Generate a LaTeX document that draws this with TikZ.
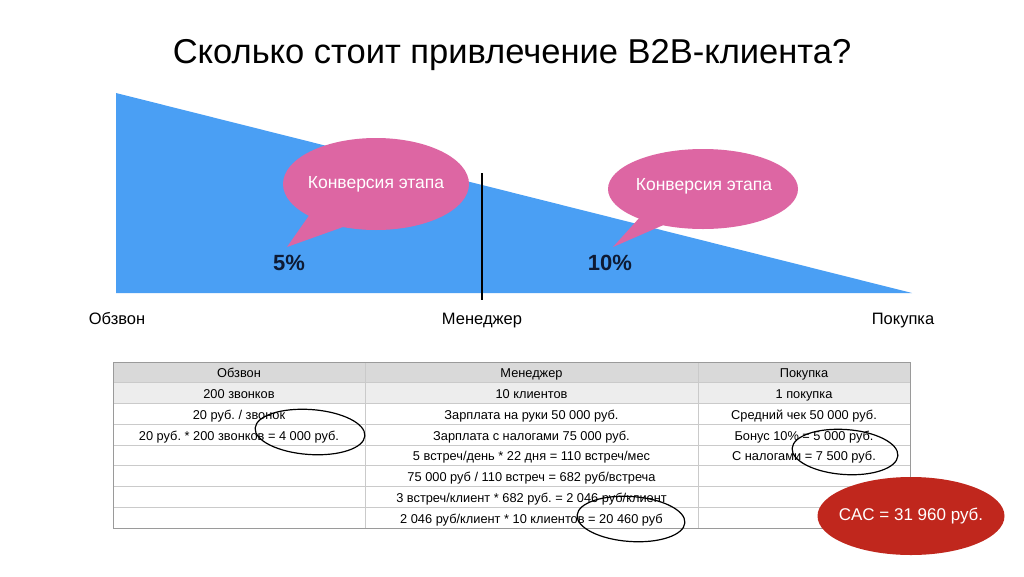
\documentclass[tikz,border=0pt]{standalone}
\usepackage{fontspec}
\setmainfont{Liberation Sans}
\usetikzlibrary{shapes.geometric, matrix, backgrounds}
\frenchspacing

\definecolor{funnelblue}{HTML}{4A9FF4}
\definecolor{bubblepink}{HTML}{DD66A3}
\definecolor{cacred}{HTML}{C0271D}
\definecolor{headgray}{HTML}{D9D9D9}
\definecolor{subgray}{HTML}{EDEDED}
\definecolor{gridgray}{HTML}{CACACA}
\definecolor{bordergray}{HTML}{9A9A9A}
\definecolor{pctnavy}{HTML}{0E1A33}

\begin{document}
\begin{tikzpicture}[x=1pt, y=-1pt,
    bubble node/.style={ellipse, fill=bubblepink, inner sep=0pt},
    bubble text/.style={text=white, font=\fontsize{17.5}{19}\selectfont},
    pct node/.style={text=pctnavy, font=\fontsize{22}{24}\selectfont\bfseries},
    stage node/.style={anchor=base, font=\fontsize{16.5}{18}\selectfont},
    cell node/.style={font=\fontsize{12.8}{14}\selectfont, inner xsep=0pt, inner ysep=0pt, outer sep=0pt,
      text height=11.4pt, text depth=0.6pt, minimum height=20.75pt},
    mark node/.style={ellipse, draw=black, line width=1.2pt, inner sep=0pt}]
\begin{scope}[on background layer]
  \fill[white] (0,0) rectangle (1024,576);
\end{scope}
\useasboundingbox (0,0) rectangle (1024,576);

\node[font=\fontsize{34.5}{38}\selectfont] (title) at (512,55) {Сколько стоит привлечение B2B-клиента?};

% funnel
\coordinate (ftop) at (116,93);
\coordinate (fleft) at (116,293);
\coordinate (fright) at (912,293);
\fill[funnelblue] (ftop) -- (fright) -- (fleft) -- cycle;
\coordinate (split top) at (482,173);
\coordinate (split bottom) at (482,300);
\draw[line width=1.2pt] (split top) -- (split bottom);

% bubbles
\coordinate (tipA) at (287,247);
\fill[bubblepink] (315,207) -- (tipA) -- (371,217) -- cycle;
\node[bubble node, minimum width=186pt, minimum height=92pt] (bubA) at (376,184) {};
\node[bubble text] at (bubA) {Конверсия этапа};
\coordinate (tipB) at (613,247);
\fill[bubblepink] (650,206) -- (tipB) -- (691,213) -- cycle;
\node[bubble node, minimum width=190pt, minimum height=80pt] (bubB) at (703,189) {};
\node[bubble text] at (704,186) {Конверсия этапа};

\node[pct node] (pctA) at (289,263) {5\%};
\node[pct node] (pctB) at (610,263) {10\%};

\node[stage node] (calls) at (117,324) {Обзвон};
\node[stage node] (manager) at (482,324) {Менеджер};
\node[stage node] (purchase) at (903,324) {Покупка};

% table
\matrix (tab) [matrix of nodes, nodes in empty cells, anchor=north west, inner sep=0pt, outer sep=0pt,
    row sep=0pt, column sep=0pt, nodes={cell node},
    column 1/.style={nodes={minimum width=252pt}},
    column 2/.style={nodes={minimum width=333pt}},
    column 3/.style={nodes={minimum width=212pt}}] at (113,362) {
  Обзвон & Менеджер & Покупка \\
  200 звонков & 10 клиентов & 1 покупка \\
  20 руб. / звонок & Зарплата на руки 50 000 руб. & Средний чек 50 000 руб. \\
  20 руб. * 200 звонков = 4 000 руб. & Зарплата с налогами 75 000 руб. & Бонус 10\% = 5 000 руб. \\
  & 5 встреч/день * 22 дня = 110 встреч/мес & С налогами = 7 500 руб. \\
  & 75 000 руб / 110 встреч = 682 руб/встреча & \\
  & 3 встреч/клиент * 682 руб. = 2 046 руб/клиент & \\
  & 2 046 руб/клиент * 10 клиентов = 20 460 руб & \\
};
\begin{scope}[on background layer]
  \fill[headgray] (tab-1-1.north west) rectangle (tab-1-3.south east);
  \fill[subgray] (tab-2-1.north west) rectangle (tab-2-3.south east);
\end{scope}
\foreach \r in {1,...,7}
  \draw[gridgray, line width=0.6pt] (tab-\r-1.south west) -- (tab-\r-3.south east);
\draw[gridgray, line width=0.6pt] (tab-1-1.north east) -- (tab-8-1.south east)
  (tab-1-2.north east) -- (tab-8-2.south east);
\draw[bordergray, line width=0.8pt] (tab-1-1.north west) rectangle (tab-8-3.south east);

% circled results
\node[mark node, minimum width=110pt, minimum height=45pt, rotate=-4] (markA) at (310,432) {};
\node[mark node, minimum width=108pt, minimum height=45pt, rotate=-4] (markB) at (631,519) {};
\node[mark node, minimum width=106pt, minimum height=45pt, rotate=-4] (markC) at (845,452) {};

\node[ellipse, fill=cacred, inner sep=0pt, minimum width=187pt, minimum height=78pt] (cac) at (911,516) {};
\node[text=white, font=\fontsize{17}{19}\selectfont] at (cac) {CAC = 31 960 руб.};
\end{tikzpicture}
\end{document}
